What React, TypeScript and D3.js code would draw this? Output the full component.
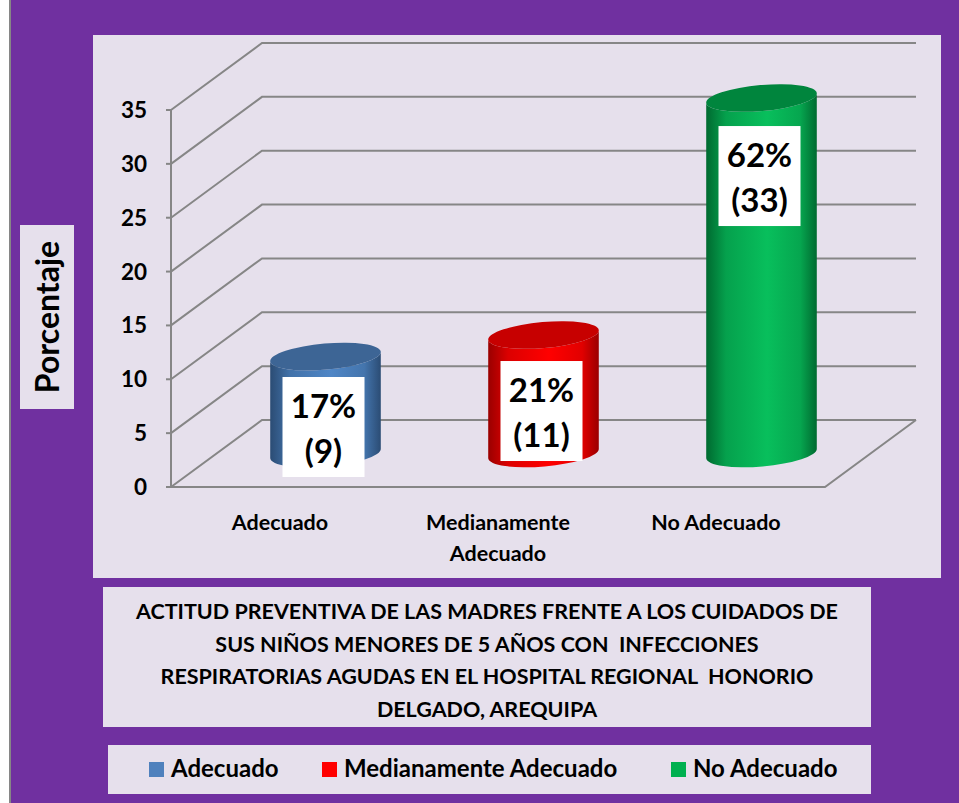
import React from "react";
import * as d3 from "d3";

const categories = ["Adecuado", "Medianamente Adecuado", "No Adecuado"];
const counts = [9, 11, 33];
const labelPct = ["17%", "21%", "62%"];
const labelCount = ["(9)", "(11)", "(33)"];
const yTicks = [0, 5, 10, 15, 20, 25, 30, 35];
const categoryLines = [["Adecuado"], ["Medianamente", "Adecuado"], ["No Adecuado"]];
const titleLines = [
  "ACTITUD PREVENTIVA DE LAS MADRES FRENTE A LOS CUIDADOS DE",
  "SUS NIÑOS MENORES DE 5 AÑOS CON  INFECCIONES",
  "RESPIRATORIAS AGUDAS EN EL HOSPITAL REGIONAL  HONORIO",
  "DELGADO, AREQUIPA",
];
const palette = [
  { swatch: "#4F81BD", edge: "#2B4C74", mid: "#4F86C6", top: "#3D6595" },
  { swatch: "#FF0000", edge: "#9A0000", mid: "#FF0000", top: "#C70000" },
  { swatch: "#00B050", edge: "#006A30", mid: "#08BF5C", top: "#00853D" },
];

const FONT = "Lato, Carlito, 'Open Sans', sans-serif";
const depthX = 91;
const depthY = -67;

export default function App() {
  const y = d3.scaleLinear().domain([0, 35]).range([487, 110]);
  const x = d3.scaleBand().domain(categories).range([171, 825]);
  const rx = 55.5;
  const ry = 13;
  const tilt = (-5 * Math.PI) / 180;
  const ex = rx * Math.cos(tilt);
  const ey = rx * Math.sin(tilt);

  return (
    <svg
      width={959}
      height={803}
      viewBox="0 0 959 803"
      style={{ position: "absolute", left: 0, top: 0, display: "block" }}
      fontFamily={FONT}
      fontWeight={700}
    >
      <defs>
        {palette.map((p, i) => (
          <linearGradient key={i} id={`cyl${i}`} x1="0" x2="1" y1="0" y2="0">
            <stop offset="0" stopColor={p.edge} />
            <stop offset="0.18" stopColor={d3.interpolateRgb(p.edge, p.mid)(0.65)} />
            <stop offset="0.55" stopColor={p.mid} />
            <stop offset="0.85" stopColor={d3.interpolateRgb(p.edge, p.mid)(0.7)} />
            <stop offset="1" stopColor={p.edge} />
          </linearGradient>
        ))}
      </defs>

      <rect x={0} y={0} width={959} height={803} fill="#fff" />
      <rect x={9} y={0} width={950} height={803} fill="#868686" />
      <rect x={11} y={0} width={948} height={803} fill="#7030A0" />

      <rect x={93} y={35} width={848} height={543} fill="#E6E0EC" />
      <rect x={20} y={225} width={54} height={184} fill="#E6E0EC" />
      <rect x={103} y={587} width={768} height={140} fill="#E6E0EC" />
      <rect x={108} y={745} width={763} height={49} fill="#E6E0EC" />

      <text
        transform="translate(59,317) rotate(-90)"
        textAnchor="middle"
        fontSize={32}
        fill="#000"
      >
        Porcentaje
      </text>

      <g stroke="#868686" strokeWidth={2} fill="none">
        {yTicks.map((t) => (
          <g key={t}>
            <line x1={x.range()[0] - 5} x2={x.range()[0]} y1={y(t)} y2={y(t)} />
            <polyline
              points={`${x.range()[0]},${y(t)} ${x.range()[0] + depthX},${y(t) + depthY} ${x.range()[1] + depthX},${y(t) + depthY}`}
            />
          </g>
        ))}
        <line x1={x.range()[0]} x2={x.range()[0]} y1={y(0)} y2={y(35)} />
        <polyline
          points={`${x.range()[0]},${y(0)} ${x.range()[1]},${y(0)} ${x.range()[1] + depthX},${y(0) + depthY}`}
        />
      </g>

      <g fontSize={22.5} fill="#000" textAnchor="end">
        {yTicks.map((t) => (
          <text key={t} x={147} y={y(t) + 8}>
            {t}
          </text>
        ))}
      </g>

      {categories.map((c, i) => {
        const cx = (x(c) as number) + x.bandwidth() / 2 + depthX / 2;
        const cyTop = y(counts[i]) + depthY / 2;
        const cyBase = y(0) + depthY / 2;
        const p = palette[i];
        const d = `M${cx - ex},${cyTop - ey} L${cx - ex},${cyBase - ey} A${rx},${ry} -5 0 0 ${cx + ex},${cyBase + ey} L${cx + ex},${cyTop + ey} A${rx},${ry} -5 0 1 ${cx - ex},${cyTop - ey} Z`;
        const boxY = cyTop + 28;
        return (
          <g key={c}>
            <path d={d} fill={`url(#cyl${i})`} />
            <ellipse
              cx={cx}
              cy={cyTop}
              rx={rx}
              ry={ry}
              fill={p.top}
              transform={`rotate(-5 ${cx} ${cyTop})`}
            />
            <rect x={cx - 43} y={i === 0 ? 377 : boxY - (i === 1 ? 2 : 0)} width={82} height={100} fill="#fff" />
            <text x={cx - 2} y={(i === 0 ? 377 : boxY - (i === 1 ? 2 : 0)) + 41} textAnchor="middle" fontSize={33} fill="#000">
              {labelPct[i]}
            </text>
            <text x={cx - 2} y={(i === 0 ? 377 : boxY - (i === 1 ? 2 : 0)) + 86} textAnchor="middle" fontSize={33} fill="#000">
              {labelCount[i]}
            </text>
          </g>
        );
      })}

      <g fontSize={21.5} fill="#000" textAnchor="middle">
        {categoryLines.map((lines, i) =>
          lines.map((l, j) => (
            <text key={l + j} x={(x(categories[i]) as number) + x.bandwidth() / 2} y={530 + j * 31}>
              {l}
            </text>
          )),
        )}
      </g>

      <g fontSize={21.5} fill="#000" textAnchor="middle">
        {titleLines.map((l, i) => (
          <text key={i} x={487} y={619 + i * 32.5} xmlSpace="preserve">
            {l}
          </text>
        ))}
      </g>

      <g fontSize={24} fill="#000">
        {categories.map((c, i) => {
          const sx = [149, 322, 671][i];
          return (
            <g key={c}>
              <rect x={sx} y={762} width={15} height={15} fill={palette[i].swatch} />
              <text x={sx + 22} y={777}>
                {c}
              </text>
            </g>
          );
        })}
      </g>
    </svg>
  );
}
